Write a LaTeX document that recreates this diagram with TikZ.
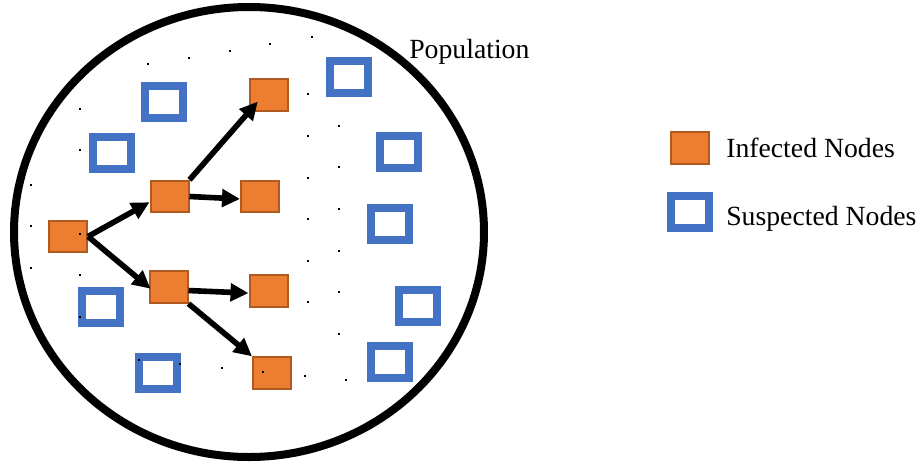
\documentclass[tikz,border=0pt]{standalone}
\usepackage{fontspec}
\setmainfont{Liberation Serif}
\usetikzlibrary{arrows.meta}
\definecolor{infill}{HTML}{ED7D31}
\definecolor{inborder}{HTML}{AE5A21}
\definecolor{susblue}{HTML}{4472C4}
\begin{document}
\begin{tikzpicture}[x=0.75pt,y=-0.75pt,
  infected/.style={rectangle,fill=infill,draw=inborder,line width=1.5pt,inner sep=0pt,minimum width=28.5pt,minimum height=23.5pt},
  suspected/.style={rectangle,fill=white,draw=susblue,line width=6pt,inner sep=0pt,minimum width=28.5pt,minimum height=24pt},
  arr/.style={line width=4.2pt,-{Triangle[length=13.5pt,width=13pt]}},
  lbl/.style={font=\fontsize{20.8pt}{24pt}\selectfont,inner sep=0pt}]
\useasboundingbox (0,0) rectangle (920,464);
% population boundary
\draw[line width=6pt] (249,232) ellipse [x radius=176.25pt, y radius=168.75pt];
\node[lbl,anchor=base west] (poplabel) at (409,58) {Population};
% suspected nodes
\node[suspected] (s1) at (164,102) {};
\node[suspected] (s2) at (112,153) {};
\node[suspected] (s3) at (101,307) {};
\node[suspected] (s4) at (158,373) {};
\node[suspected] (s5) at (349,77) {};
\node[suspected] (s6) at (399,152) {};
\node[suspected] (s7) at (390,223.5) {};
\node[suspected] (s8) at (417.5,305.5) {};
\node[suspected] (s9) at (390,361.5) {};
% infected nodes
\node[infected] (i0) at (68,236.5) {};
\node[infected] (i1) at (169.5,196.5) {};
\node[infected] (i2) at (269,95) {};
\node[infected] (i3) at (260,196.5) {};
\node[infected] (i4) at (168.5,287) {};
\node[infected] (i5) at (268.5,291) {};
\node[infected] (i6) at (272,373) {};
% arrows
\draw[arr] (i0.east) -- (i1.196);
\draw[arr,shorten >=-2pt] (i0.east) -- (i4.west);
\draw[arr,shorten >=-10pt] (i1.north east) -- (i2.south west);
\draw[arr] (i1.east) -- (i3.187);
\draw[arr] (i4.-10) -- (i5.186);
\draw[arr] (i4.south east) -- (i6.north west);
% dots
\foreach \p in {(148,64),(189,58),(230,51),(270,44),(312,37),(80,109),(80,150),(31,185),(31,226),(80,234),(31,268),(80,275),(80,317),(139,360),(180,364),(222,368),(263,372),(305,376),(346,380),(308,94),(339,126),(308,136),(339,167),(308,178),(339,209),(308,219),(339,251),(308,261),(339,292),(308,302),(339,334)}
  \fill \p ++(-1.4,-1.4) rectangle ++(2.8,2.8);
% legend
\node[infected] (legi) at (690,148) {};
\node[suspected] (legs) at (690,212) {};
\node[lbl,anchor=base west] (legitext) at (726,157) {Infected Nodes};
\node[lbl,anchor=base west] (legstext) at (726,225) {Suspected Nodes};
\end{tikzpicture}
\end{document}
